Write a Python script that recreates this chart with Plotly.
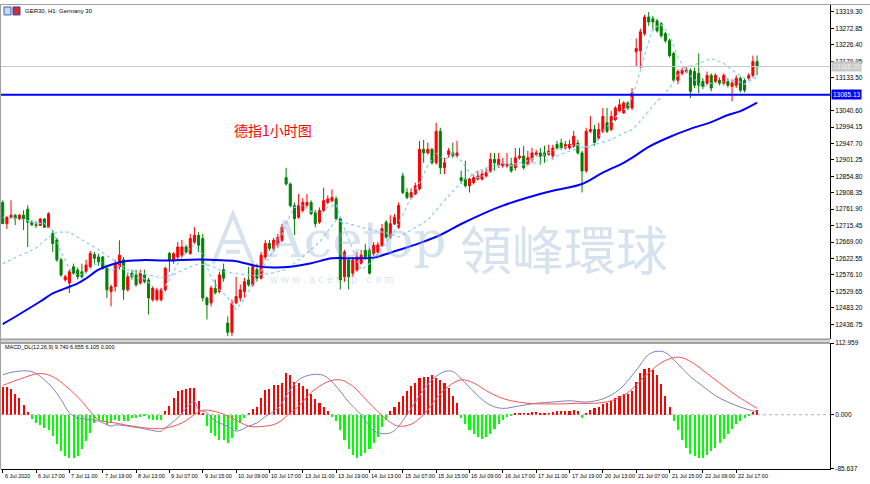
import plotly.graph_objects as go

# ---------------- data ----------------
opens = [12781,12721,12739,12745,12735,12745,12762,12725,12718,12716,12734,12711,
 12693,12675,12619,12562,12553,12599,12590,12585,12585,12599,12634,12627,12627,12595,
 12529,12543,12599,12619,12534,12581,12576,12553,12576,12562,12506,12506,12506,12534,
 12637,12619,12627,12632,12655,12637,12669,12688,12679,12511,12497,12538,12529,12591,
 12440,12414,12497,12511,12529,12562,12548,12591,12567,12627,12665,12651,12660,12674,
 12851,12833,12772,12739,12758,12773,12781,12753,12725,12758,12781,12786,12791,12735,
 12571,12618,12581,12590,12609,12646,12646,12637,12641,12660,12725,12683,12721,12711,
 12856,12809,12795,12805,12819,12931,12921,12931,12893,12982,12879,12916,12921,12913,
 12851,12847,12828,12837,12847,12847,12856,12870,12903,12885,12884,12884,12889,12879,
 12907,12912,12889,12903,12917,12921,12921,12917,12912,12945,12949,12935,12935,12940,
 12949,12921,12870,12982,12987,12963,12982,13006,12987,13015,13039,13034,13062,13048,
 13207,13210,13258,13305,13300,13294,13286,13258,13238,13202,13126,13146,13151,13154,
 13151,13146,13123,13118,13140,13123,13126,13118,13123,13109,13112,13132,13126,13132,
 13140,13179]
highs = [12787,12742,12787,12748,12748,12759,12773,12731,12728,12737,12737,12753,
 12703,12681,12625,12577,12591,12608,12597,12608,12619,12644,12641,12636,12630,12599,
 12549,12619,12674,12627,12580,12591,12591,12591,12591,12568,12543,12540,12540,12599,
 12641,12641,12669,12675,12661,12692,12711,12697,12692,12515,12546,12563,12585,12608,
 12459,12507,12571,12549,12568,12599,12608,12608,12641,12675,12675,12681,12692,12720,
 12879,12837,12781,12805,12793,12805,12787,12759,12767,12823,12801,12818,12798,12742,
 12647,12627,12627,12641,12647,12664,12653,12669,12669,12720,12731,12745,12748,12781,
 12865,12821,12821,12837,12955,12958,12950,12935,13006,12992,12907,12935,12950,12955,
 12871,12899,12851,12860,12871,12871,12879,12921,12921,12921,12907,12921,12907,12935,
 12935,12941,12927,12935,12930,12935,12941,12944,12944,12955,12961,12955,12958,12983,
 12958,12927,12992,13025,13000,13006,13048,13048,13039,13053,13073,13067,13067,13104,
 13244,13272,13311,13319,13308,13300,13291,13263,13244,13207,13157,13162,13165,13160,
 13162,13202,13132,13151,13146,13146,13134,13146,13132,13129,13140,13137,13132,13146,
 13196,13196]
lows = [12720,12706,12737,12717,12731,12703,12655,12714,12709,12714,12709,12709,
 12641,12613,12571,12557,12525,12577,12563,12566,12580,12594,12608,12602,12591,12511,
 12487,12529,12591,12506,12529,12563,12543,12549,12552,12464,12501,12501,12501,12529,
 12585,12608,12619,12625,12636,12633,12664,12641,12501,12450,12487,12521,12524,12557,
 12403,12403,12493,12501,12512,12543,12543,12557,12563,12619,12644,12644,12653,12669,
 12829,12767,12689,12734,12753,12767,12745,12711,12720,12753,12776,12781,12731,12535,
 12557,12535,12571,12585,12605,12619,12577,12630,12636,12655,12678,12678,12717,12706,
 12804,12790,12790,12801,12815,12893,12916,12888,12888,12861,12861,12907,12907,12907,
 12833,12823,12809,12832,12843,12843,12851,12865,12871,12879,12879,12879,12865,12871,
 12902,12874,12885,12893,12913,12888,12893,12913,12902,12930,12930,12930,12930,12935,
 12916,12809,12865,12977,12941,12958,12977,12977,12983,13011,13034,13031,13042,13042,
 13165,13160,13252,13280,13266,13261,13246,13232,13190,13120,13115,13140,13146,13076,
 13104,13090,13101,13112,13095,13118,13112,13112,13106,13067,13104,13092,13092,13126,
 13134,13140]
closes = [12721,12739,12745,12735,12745,12735,12725,12718,12716,12734,12711,12749,
 12665,12619,12576,12571,12585,12581,12571,12571,12604,12637,12623,12613,12595,12534,
 12543,12609,12632,12534,12571,12571,12548,12581,12557,12511,12539,12535,12534,12595,
 12618,12636,12655,12655,12641,12679,12688,12660,12511,12492,12539,12526,12576,12567,
 12414,12497,12515,12534,12557,12548,12599,12567,12632,12665,12651,12674,12683,12711,
 12833,12772,12735,12772,12781,12781,12749,12721,12758,12786,12791,12795,12735,12562,
 12641,12571,12618,12627,12632,12627,12581,12660,12661,12707,12683,12721,12739,12772,
 12809,12795,12809,12828,12931,12921,12931,12893,12982,12879,12893,12927,12913,12921,
 12843,12828,12847,12851,12856,12861,12865,12903,12893,12903,12893,12889,12870,12907,
 12912,12879,12907,12921,12921,12912,12912,12926,12935,12935,12935,12945,12945,12968,
 12921,12870,12982,12987,12950,12987,13024,12982,13024,13048,13057,13062,13048,13090,
 13216,13263,13305,13291,13291,13266,13252,13238,13196,13126,13151,13154,13154,13095,
 13112,13112,13109,13140,13104,13140,13118,13140,13112,13118,13132,13098,13098,13140,
 13179,13165]

ma_bar = [0,4,9,12,15,18,20,23,26,30,34,39,47,51,56,61,65,69,74,79,84,89,93,96,100,
          105,110,116,120,126,132,139,144,149,151,155,160,165,170,174,177,181]
ma_val = [12437,12465,12501,12524,12538,12552,12566,12591,12605,12616,12618,12617,12620,
          12618,12615,12601,12597,12599,12609,12623,12623,12625,12639,12650,12666,12689,
          12720,12753,12772,12795,12814,12833,12865,12893,12907,12938,12966,12989,13008,
          13028,13039,13063]

slow_bar = [0,4,8,11,13,16,20,23,26,28,30,34,38,41,44,47,50,53,56,60,64,68,72,76,80,86,
            93,95,98,102,106,110,114,118,122,126,131,135,138,141,146,149,151,153,156,
            160,163,167,170,173,176,179,181]
slow_val = [12608,12630,12652,12683,12697,12697,12669,12647,12622,12608,12591,12580,12568,
            12577,12594,12608,12602,12585,12580,12574,12580,12591,12627,12669,12731,12711,
            12692,12683,12703,12731,12787,12837,12870,12885,12885,12888,12902,12922,12933,
            12941,12958,12977,12986,13011,13053,13104,13160,13174,13188,13174,13146,13126,
            13134]

fast_bar = list(range(0, 181, 2)) + [181]
fast_val = [12739,12736,12736,12728,12722,12722,12703,12641,12594,12574,12582,12605,12613,
            12585,12602,12582,12568,12566,12543,12529,12563,12608,12641,12661,12633,12568,
            12535,12512,12479,12507,12552,12588,12627,12658,12722,12767,12773,12756,12750,
            12767,12776,12706,12650,12591,12608,12636,12669,12700,12748,12795,12837,12885,
            12921,12902,12919,12899,12865,12851,12860,12879,12893,12888,12893,12899,12910,
            12916,12927,12935,12941,12944,12933,12947,12983,13006,13036,13050,13112,13196,
            13274,13283,13255,13193,13151,13129,13106,13118,13120,13126,13126,13115,13129,
            13137]

hist = [43.6,43.6,40.5,33,26,15.8,3.7,-6.8,-13,-15.8,-21,-23.6,-34,-47,-58,-65,-68,-68,
        -65,-55,-42,-29,-13,-8,-10.5,-15.8,-13,-8,-10,-10,-10,-5,-5,-3,-2,-7,-8,-8,-8,5,
        14,26,38,39,41,42,42,21,3,-18,-29,-34,-40,-40,-45,-37,-24,-13,-5,2,9.5,12,26,39,41,
        47,47,50,66,63,52,50,45,40,33,25,18,12,5,-3,-10,-25,-40,-55,-63,-68,-65,-60,-55,-45,
        -35,-20,-8,5,12,20,30,38,45,50,58,60,60,62,58,55,50,42,30,18,-5,-15,-25,-30,-35,-38,
        -35,-30,-22,-15,-8,-3,-2,2,3,2,3,4,4,3,2,3,4,5,5,5,6,8,5,-5,3,8,10,12,16,18,22,26,30,
        32,33,38,52,65,72,74,70,62,48,30,12,-10,-25,-40,-52,-62,-66,-68,-68,-64,-58,-52,-45,
        -38,-30,-22,-15,-10,-5,-2,4,8]

macd_bar = [0,3,7,10,12,14,16,18,20,23,26,27,30,33,38,39,42,44,46,47,49,51,54,56,59,61,63,
            66,68,71,74,77,80,83,86,89,92,94,97,100,103,106,108,111,114,117,120,124,128,
            132,136,140,144,148,152,155,157,159,162,165,168,171,174,177,180,181]
macd_val = [63,68,68,55,42,24,3,-5,-7,-10,-18,-16,-18,-21,-26,-21,-5,10,21,8,3,-10,-18,-26,
            -18,-13,-3,10,29,55,63,62,45,20,0,-25,-30,-25,0,30,55,68,68,50,30,15,10,14,18,
            20,22,20,25,40,70,95,100,98,80,60,45,30,20,12,6,5]
sig_bar = [0,4,9,12,15,19,21,23,27,31,38,43,46,48,51,55,59,63,66,69,71,74,78,81,84,87,90,
           93,95,98,101,104,107,110,113,116,119,122,126,130,134,138,142,146,150,154,158,
           161,163,166,169,172,175,178,181]
sig_val = [46,56,65,60,46,21,5,-8,-13,-18,-22,-13,0,7,5,-5,-18,-18,-13,3,13,35,52,55,45,
           25,5,-12,-18,-15,0,25,45,55,50,38,28,22,18,17,17,18,18,22,35,60,82,90,90,80,65,
           50,35,22,10]

# the 13087.05 grid label is hidden behind the level tag in the reference
price_ticks = [13319.30,13272.85,13226.40,13179.95,13133.50,13040.60,12994.15,
               12947.70,12901.25,12854.80,12808.35,12761.90,12715.45,12669.00,12622.55,
               12576.10,12529.65,12483.20,12436.75]
time_idx = [0,8,16,24,32,40,48,56,64,72,80,88,96,104,112,120,128,136,144,152,160,168,176]
time_labels = ["6 Jul 2020","6 Jul 17:00","7 Jul 11:00","7 Jul 19:00","8 Jul 13:00",
               "9 Jul 07:00","9 Jul 15:00","10 Jul 09:00","10 Jul 17:00","13 Jul 11:00",
               "13 Jul 19:00","14 Jul 13:00","15 Jul 07:00","15 Jul 15:00","16 Jul 09:00",
               "16 Jul 17:00","17 Jul 11:00","17 Jul 19:00","20 Jul 13:00","21 Jul 07:00",
               "21 Jul 15:00","22 Jul 09:00","22 Jul 17:00"]
level_price = 13085.13
bid_price = 13165.20
macd_ticks = [112.959, 0.0, -85.637]

# ---------------- layout geometry ----------------
W, H = 870, 484
ML, MR, MT, MB = 1, 40, 1, 15
PW, PH = W - ML - MR, H - MT - MB


def px_x(x):
    return (x - ML) / PW


def px_y(y):
    return (H - MB - y) / PH


bars = list(range(len(opens)))
FONT = "Liberation Sans"
WM = "rgba(150,178,212,0.38)"

fig = go.Figure()

fig.add_trace(go.Candlestick(
    x=bars, open=opens, high=highs, low=lows, close=closes,
    increasing=dict(line=dict(color="#ff0000", width=1), fillcolor="#ff0000"),
    decreasing=dict(line=dict(color="#008000", width=1), fillcolor="#008000"),
    whiskerwidth=0, xaxis="x", yaxis="y", showlegend=False, hoverinfo="skip"))

fig.add_trace(go.Scatter(x=slow_bar, y=slow_val, mode="lines",
    line=dict(color="#87cefa", width=1.2, dash="dot"), xaxis="x", yaxis="y",
    showlegend=False, hoverinfo="skip"))
fig.add_trace(go.Scatter(x=fast_bar, y=fast_val, mode="lines",
    line=dict(color="#87cefa", width=1.2, dash="dot"), xaxis="x", yaxis="y",
    showlegend=False, hoverinfo="skip"))
fig.add_trace(go.Scatter(x=ma_bar, y=ma_val, mode="lines", line_shape="spline",
    line=dict(color="#0000ff", width=2), xaxis="x", yaxis="y",
    showlegend=False, hoverinfo="skip"))

fig.add_trace(go.Bar(x=bars, y=hist, width=0.5,
    marker=dict(color=["#ff0000" if v >= 0 else "#00ff00" for v in hist], line_width=0),
    xaxis="x2", yaxis="y2", showlegend=False, hoverinfo="skip"))
fig.add_trace(go.Scatter(x=macd_bar, y=macd_val, mode="lines", line_shape="spline",
    line=dict(color="#8080c0", width=1), xaxis="x2", yaxis="y2",
    showlegend=False, hoverinfo="skip"))
fig.add_trace(go.Scatter(x=sig_bar, y=sig_val, mode="lines", line_shape="spline",
    line=dict(color="#ff5050", width=1), xaxis="x2", yaxis="y2",
    showlegend=False, hoverinfo="skip"))

xr = [-0.41, 198.5]
main_top, main_bot = 1, 338
macd_top, macd_bot = 342, 469

fig.update_layout(
    width=W, height=H, margin=dict(l=ML, r=MR, t=MT, b=MB),
    paper_bgcolor="white", plot_bgcolor="white", bargap=0,
    font=dict(family=FONT, size=7, color="#000000"),
    xaxis=dict(domain=[0, 1], range=xr, anchor="y", showgrid=False, zeroline=False,
               showticklabels=False, ticks="", showline=False,
               rangeslider=dict(visible=False)),
    yaxis=dict(domain=[px_y(main_bot), px_y(main_top)], range=[12394.7, 13338.9],
               side="right", anchor="x", showgrid=False, zeroline=False,
               tickvals=price_ticks, ticktext=[f"{v:.2f}" for v in price_ticks],
               ticks="outside", ticklen=3, tickcolor="#000", tickfont=dict(size=6.5),
               showline=True, linecolor="#000", linewidth=1),
    xaxis2=dict(domain=[0, 1], range=xr, anchor="y2", showgrid=False, zeroline=False,
                tickvals=time_idx, showticklabels=False, ticks="outside", ticklen=3,
                tickcolor="#000", showline=True, linecolor="#000", linewidth=1),
    yaxis2=dict(domain=[0, px_y(macd_top)], range=[-85.637, 112.959], side="right",
                anchor="x2", showgrid=False, zeroline=False, tickvals=macd_ticks,
                ticktext=["112.959", "0.000", "-85.637"], ticks="outside", ticklen=3,
                tickcolor="#000", tickfont=dict(size=6.5), showline=True,
                linecolor="#000", linewidth=1),
)

shapes = []
# watermark logo (stylised "A" peak), drawn below the traces
lx = [px_x(v) for v in (213, 233, 253, 222, 244, 226, 240)]
ly = [px_y(v) for v in (262, 212, 262, 240, 240, 250, 250)]
shapes.append(dict(type="path", xref="paper", yref="paper", layer="below",
                   path=f"M {lx[0]},{ly[0]} L {lx[1]},{ly[1]} L {lx[2]},{ly[2]} "
                        f"M {lx[3]},{ly[3]} L {lx[4]},{ly[4]} M {lx[5]},{ly[5]} L {lx[6]},{ly[6]}",
                   line=dict(color=WM, width=4)))
# horizontal level line & bid line
shapes.append(dict(type="line", xref="paper", yref="y", x0=0, x1=1,
                   y0=level_price, y1=level_price, line=dict(color="#0000ff", width=2)))
shapes.append(dict(type="line", xref="paper", yref="y", x0=0, x1=1,
                   y0=bid_price, y1=bid_price, line=dict(color="#c8c8c8", width=1)))
# macd zero line
shapes.append(dict(type="line", xref="paper", yref="y2", x0=0, x1=1, y0=0, y1=0,
                   line=dict(color="#b0b0b0", width=1, dash="dot")))
# pane frames / separators
shapes.append(dict(type="rect", xref="paper", yref="paper", x0=px_x(0), x1=1,
                   y0=px_y(main_bot), y1=px_y(macd_top), fillcolor="#d4d4d4",
                   line_width=0, layer="below"))
shapes.append(dict(type="line", xref="paper", yref="paper", x0=px_x(0), x1=1,
                   y0=px_y(main_bot), y1=px_y(main_bot), line=dict(color="#808080", width=1)))
shapes.append(dict(type="line", xref="paper", yref="paper", x0=px_x(0), x1=1,
                   y0=px_y(macd_top), y1=px_y(macd_top), line=dict(color="#606060", width=1)))
shapes.append(dict(type="line", xref="paper", yref="paper", x0=px_x(0.5), x1=px_x(0.5),
                   y0=0, y1=px_y(0.5), line=dict(color="#a0a0a0", width=1)))
shapes.append(dict(type="line", xref="paper", yref="paper", x0=px_x(0), x1=px_x(W),
                   y0=px_y(0.5), y1=px_y(0.5), line=dict(color="#a0a0a0", width=1)))
# tiny title icons
shapes.append(dict(type="rect", xref="paper", yref="paper", x0=px_x(4), x1=px_x(11),
                   y0=px_y(11), y1=px_y(3), fillcolor="#c8d8f0", line=dict(color="#4060a0", width=1)))
shapes.append(dict(type="rect", xref="paper", yref="paper", x0=px_x(13), x1=px_x(20),
                   y0=px_y(11), y1=px_y(3), fillcolor="#d03030", line=dict(color="#2040c0", width=1)))

ann = []
ann.append(dict(xref="paper", yref="paper", x=px_x(23), y=px_y(7), xanchor="left",
                yanchor="middle", showarrow=False, text="GER30, H1: Germany 30",
                font=dict(size=6, color="#000")))
ann.append(dict(xref="paper", yref="paper", x=px_x(3), y=px_y(346), xanchor="left",
                yanchor="middle", showarrow=False,
                text="MACD_DL(12,26,9) 9.740 6.655 6.105 0.000",
                font=dict(size=5.5, color="#000")))
ann.append(dict(xref="paper", yref="paper", x=px_x(232), y=px_y(127), xanchor="left",
                yanchor="middle", showarrow=False, text="德指1小时图",
                font=dict(family="Noto Sans CJK SC", size=14, color="#ff0000")))
# watermark
ann.append(dict(xref="paper", yref="paper", x=px_x(356), y=px_y(238), xanchor="center",
                yanchor="middle", showarrow=False, text="Acetop",
                font=dict(family="DejaVu Serif", size=51, color=WM)))
ann.append(dict(xref="paper", yref="paper", x=px_x(564), y=px_y(246), xanchor="center",
                yanchor="middle", showarrow=False, text="領峰環球",
                font=dict(family="Noto Sans CJK TC", size=52, color=WM)))
ann.append(dict(xref="paper", yref="paper", x=px_x(331), y=px_y(277), xanchor="center",
                yanchor="middle", showarrow=False, text="w w w . a c e t o p . c o m",
                font=dict(family="Liberation Sans", size=11, color=WM)))
# level labels on price axis
ann.append(dict(xref="paper", yref="y", x=1, y=level_price, xanchor="left",
                yanchor="middle", xshift=1, showarrow=False, text=f"{level_price:.2f}",
                bgcolor="#0000ff", borderpad=1, font=dict(size=6.5, color="#ffffff")))
ann.append(dict(xref="paper", yref="y", x=1, y=bid_price, xanchor="left",
                yanchor="middle", xshift=1, showarrow=False, text=f"{bid_price:.2f}",
                bgcolor="#c8c8c8", borderpad=1, font=dict(size=6.5, color="#f0f0f0")))
# time labels
for i, t in zip(time_idx, time_labels):
    ann.append(dict(xref="x2", yref="paper", x=i, y=0, xanchor="left", yanchor="top",
                    xshift=0, yshift=-2, showarrow=False, text=t,
                    font=dict(size=5.5, color="#000")))

fig.update_layout(shapes=shapes, annotations=ann)
fig.write_html("out.html")
